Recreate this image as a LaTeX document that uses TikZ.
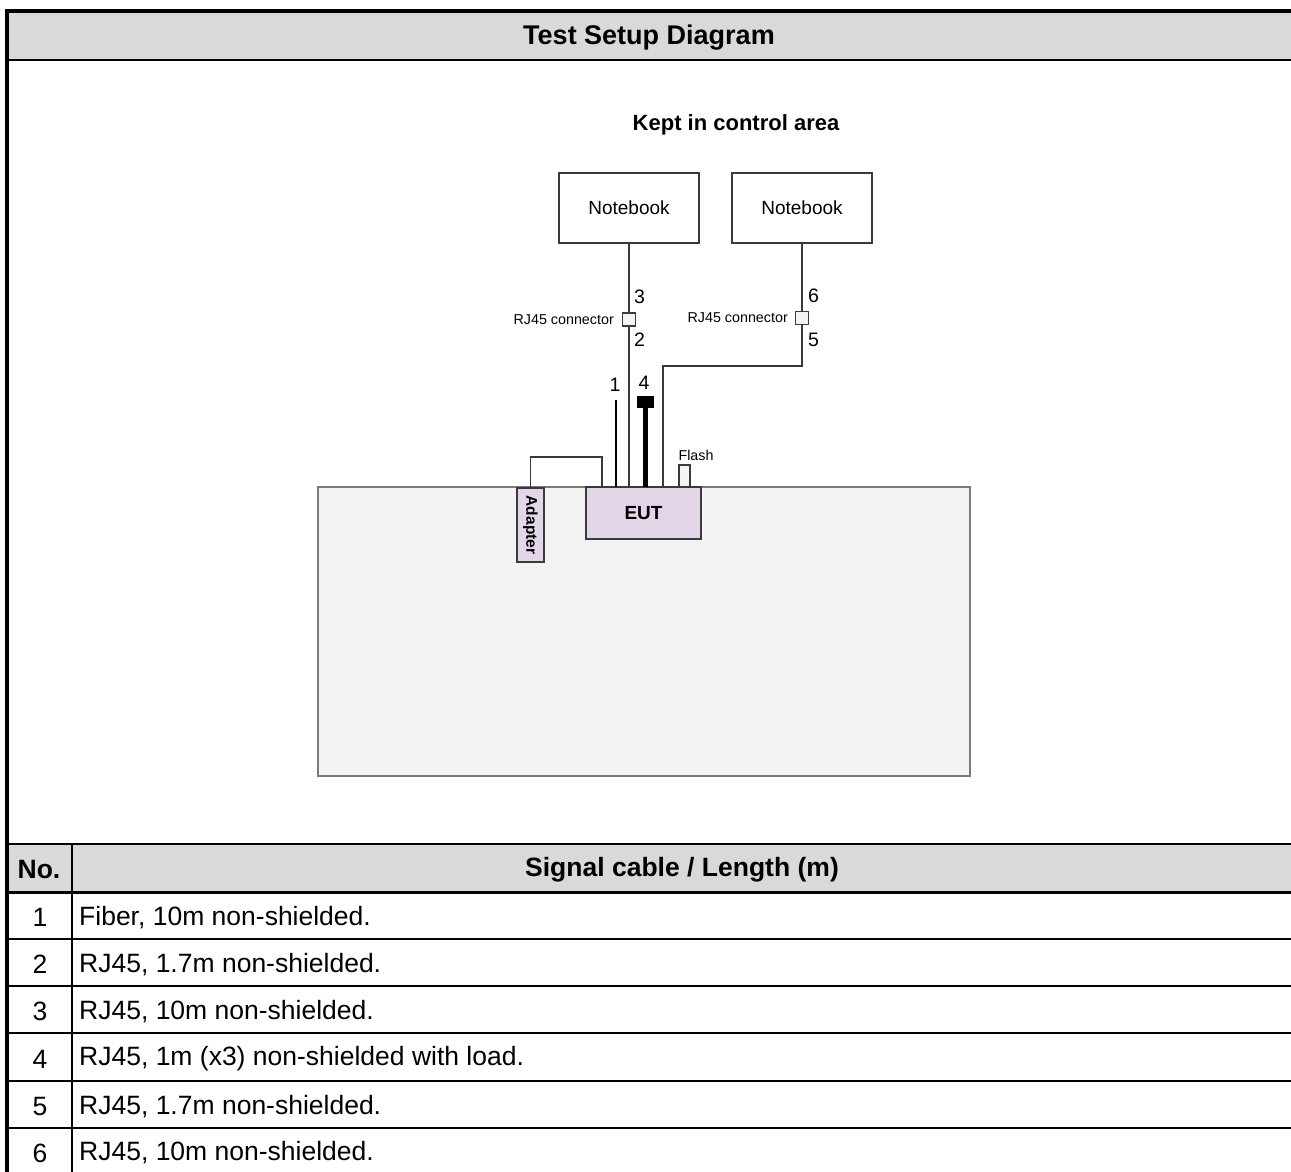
\documentclass[tikz,border=0pt]{standalone}
\usepackage{fontspec}
\setmainfont{Liberation Sans}
\definecolor{hdrgray}{HTML}{D9D9D9}
\definecolor{benchfill}{HTML}{F3F3F3}
\definecolor{benchline}{HTML}{7A7A7A}
\definecolor{eutfill}{HTML}{E2D6E8}
\definecolor{wire}{HTML}{3A3A3A}
\begin{document}
\begin{tikzpicture}[x=1pt,y=-1pt,
  tbltext/.style={font=\fontsize{26.5}{30}\selectfont, inner sep=0pt},
  tblhead/.style={font=\bfseries\fontsize{26.5}{30}\selectfont, inner sep=0pt},
  rowline/.style={line width=2pt},
  box/.style={draw=wire, line width=1.5pt, fill=white, inner sep=0pt, outer sep=0pt},
  lbl/.style={font=\fontsize{14.3}{16}\selectfont, inner sep=0pt},
  num/.style={font=\fontsize{19.5}{22}\selectfont, inner sep=0pt},
  cable/.style={draw=wire, line width=1.5pt},
  conn/.style={draw=wire, line width=1.2pt, fill=benchfill, minimum size=13pt, inner sep=0pt, outer sep=0pt}
]
\useasboundingbox (0,0) rectangle (1291,1172);
% ---------- frame and title band ----------
\fill[hdrgray] (9,13) rectangle (1291,60);
\node[tblhead, font=\bfseries\fontsize{27}{30}\selectfont] (title) at (649,38) {Test Setup Diagram};
\draw[line width=4pt] (7,1172) -- (7,11) -- (1291,11);
\draw[line width=2.5pt] (9,60) -- (1291,60);
% ---------- table ----------
\fill[hdrgray] (9,844) rectangle (1291,892);
\draw[rowline] (9,844) -- (1291,844);
\draw[line width=3pt] (9,892) -- (1291,892);
\foreach \yy in {939,986,1033,1081,1128} {\draw[rowline] (9,\yy) -- (1291,\yy);}
\draw[line width=1.5pt] (72,844) -- (72,1172);
\node[tblhead] (hno) at (39,870) {No.};
\node[tblhead] (hcable) at (682,870) {Signal cable / Length (m)};
\node[tbltext] (n1) at (40,917.5) {1};
\node[tbltext, anchor=west] (t1) at (79,917.5) {Fiber, 10m non-shielded.};
\node[tbltext] (n2) at (40,964.5) {2};
\node[tbltext, anchor=west] (t2) at (79,964.5) {RJ45, 1.7m non-shielded.};
\node[tbltext] (n3) at (40,1011.5) {3};
\node[tbltext, anchor=west] (t3) at (79,1011.5) {RJ45, 10m non-shielded.};
\node[tbltext] (n4) at (40,1059) {4};
\node[tbltext, anchor=west] (t4) at (79,1059) {RJ45, 1m (x3) non-shielded with load.};
\node[tbltext] (n5) at (40,1106.5) {5};
\node[tbltext, anchor=west] (t5) at (79,1106.5) {RJ45, 1.7m non-shielded.};
\node[tbltext] (n6) at (40,1153) {6};
\node[tbltext, anchor=west] (t6) at (79,1153) {RJ45, 10m non-shielded.};
% ---------- diagram ----------
\node[font=\bfseries\fontsize{22}{25}\selectfont, inner sep=0pt] (area) at (736,125) {Kept in control area};
\node[draw=benchline, fill=benchfill, line width=2pt, minimum width=652pt, minimum height=289pt, anchor=north west, inner sep=0pt, outer sep=0pt] (bench) at (318,487) {};
\node[box, minimum width=140pt, minimum height=70pt, font=\fontsize{19}{22}\selectfont] (nb1) at (629,208) {Notebook};
\node[box, minimum width=140pt, minimum height=70pt, font=\fontsize{19}{22}\selectfont] (nb2) at (802,208) {Notebook};
\node[conn] (rj1) at (629,319.5) {};
\node[conn] (rj2) at (802,318) {};
\node[lbl, anchor=east] (rjl1) at (614,320) {RJ45 connector};
\node[lbl, anchor=east] (rjl2) at (788,318) {RJ45 connector};
% EUT, adapter, flash
\node[draw=wire, line width=1.5pt, fill=eutfill, minimum width=115pt, minimum height=52pt, anchor=north west, inner sep=0pt, outer sep=0pt, font=\bfseries\fontsize{19}{22}\selectfont] (eut) at (586,487) {EUT};
\node[draw=wire, line width=1.5pt, fill=eutfill, minimum width=27pt, minimum height=74pt, anchor=north west, inner sep=0pt, outer sep=0pt] (adapter) at (517,488) {};
\node[rotate=-90, font=\bfseries\fontsize{15.5}{18}\selectfont, inner sep=0pt] (adtext) at (adapter.center) {Adapter};
\node[draw=wire, line width=1.2pt, fill=benchfill, minimum width=11pt, minimum height=22pt, anchor=north west, inner sep=0pt, outer sep=0pt] (flash) at (679,465) {};
\node[lbl] (flashl) at (696,455) {Flash};
% load on cable 4
\node[fill=black, minimum width=17pt, minimum height=12pt, inner sep=0pt, outer sep=0pt] (load) at (645.5,402) {};
% cables
\coordinate (c1) at (616,400);
\coordinate (c5) at (663,366);
\coordinate (ca) at (602,457);
\draw[cable] (nb1.south) -- (rj1.north);
\draw[cable] (rj1.south) -- (rj1.south |- eut.north);
\draw[cable] (nb2.south) -- (rj2.north);
\draw[cable] (rj2.south) |- (c5) -- (c5 |- eut.north);
\draw[draw=black, line width=1.8pt] (c1) -- (c1 |- eut.north);
\draw[draw=black, line width=5pt] (load.south) -- (load.south |- eut.north);
\draw[cable] (adapter.north) |- (ca) -- (ca |- eut.north);
% cable numbers
\node[num, anchor=west] (l3) at (634,297) {3};
\node[num, anchor=west] (l2) at (634,340) {2};
\node[num, anchor=west] (l6) at (808,296) {6};
\node[num, anchor=west] (l5) at (808,340) {5};
\node[num] (l1) at (615,385) {1};
\node[num] (l4) at (644,383) {4};
\end{tikzpicture}
\end{document}
